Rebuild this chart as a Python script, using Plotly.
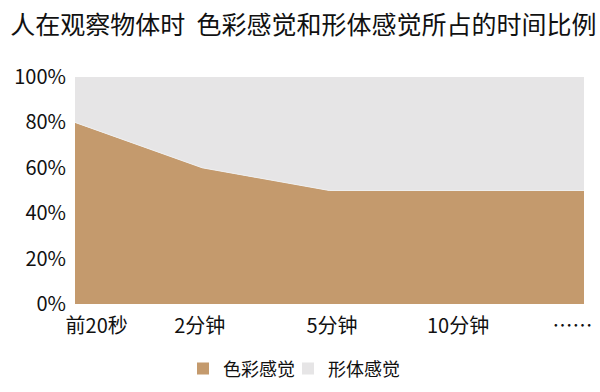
import plotly.graph_objects as go

categories = ["前20秒", "2分钟", "5分钟", "10分钟", "……"]
color_share = [0.80, 0.60, 0.50, 0.50, 0.50]
form_share = [0.20, 0.40, 0.50, 0.50, 0.50]
y_ticks = [0, 0.2, 0.4, 0.6, 0.8, 1.0]
title_text = "人在观察物体时  色彩感觉和形体感觉所占的时间比例"
series_names = ["色彩感觉", "形体感觉"]

BROWN = "#C49A6D"
GRAY = "#E6E5E6"
FONT = "Noto Sans CJK SC, Microsoft YaHei, sans-serif"

x_idx = list(range(len(categories)))

fig = go.Figure()
fig.add_trace(go.Scatter(
    x=x_idx, y=color_share, stackgroup="s", mode="lines",
    line=dict(width=1, color="#EFEFEF"), fillcolor=BROWN,
    name=series_names[0], showlegend=False, hoverinfo="skip"))
fig.add_trace(go.Scatter(
    x=x_idx, y=form_share, stackgroup="s", mode="lines",
    line=dict(width=0, color=GRAY), fillcolor=GRAY,
    name=series_names[1], showlegend=False, hoverinfo="skip"))

# legend markers
for nm, col in zip(series_names, [BROWN, GRAY]):
    fig.add_trace(go.Scatter(
        x=[None], y=[None], mode="markers", name=nm,
        marker=dict(symbol="square", size=12, color=col)))
# invisible spacer entry so the last legend label is not clipped
fig.add_trace(go.Scatter(
    x=[None], y=[None], mode="markers", name=" ",
    marker=dict(symbol="square", size=1, color="rgba(0,0,0,0)")))

# label positions slightly nudged inward at the ends, as in the original
label_pos = [x + d for x, d in zip(x_idx, [0.17, -0.02, 0.02, 0.01, -0.09])]

fig.update_layout(
    width=600, height=392,
    margin=dict(l=75, r=16, t=77, b=88),
    paper_bgcolor="white", plot_bgcolor="white",
    font=dict(family=FONT, color="#111111"),
    title=dict(text=title_text, x=0.017, xanchor="left", y=0.936, yanchor="middle",
               font=dict(size=25, family=FONT, color="#111111")),
    showlegend=True,
    legend=dict(orientation="h", xref="container", yref="container",
                x=0.305, xanchor="left", y=0.059, yanchor="middle",
                traceorder="normal", entrywidth=60,
                font=dict(size=18, family=FONT, color="#111111"),
                itemsizing="constant", tracegroupgap=0),
    xaxis=dict(range=[0, len(categories) - 1], tickvals=label_pos, ticktext=categories,
               showgrid=False, zeroline=False, showline=False, ticks="",
               tickfont=dict(size=20, family=FONT, color="#111111"),
               ticklabelstandoff=8, fixedrange=True, automargin=False),
    yaxis=dict(range=[0, 1], tickvals=y_ticks, tickformat=".0%",
               showgrid=False, zeroline=False, showline=False, ticks="",
               tickfont=dict(size=20, family=FONT, color="#111111"),
               ticklabelstandoff=8, fixedrange=True, automargin=False),
)

fig.write_html("out.html", config={"displayModeBar": False, "staticPlot": True},
               post_script="document.body.style.margin='0';document.body.style.overflow='hidden';")
